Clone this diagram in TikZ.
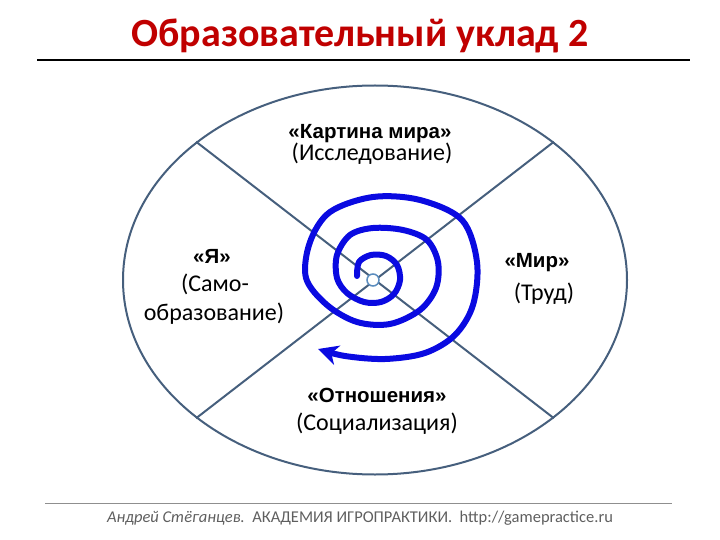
\documentclass[tikz,border=0pt]{standalone}
\usepackage{fontspec}
\setmainfont{Carlito}
\newfontfamily\arialfont{Liberation Sans}
\usetikzlibrary{shapes.geometric,arrows.meta}
\definecolor{titlered}{RGB}{192,0,0}
\definecolor{rimgray}{RGB}{70,95,125}
\definecolor{spiralblue}{RGB}{10,10,225}
\definecolor{hubblue}{RGB}{90,140,190}
\definecolor{footgray}{RGB}{95,95,95}
\begin{document}
\begin{tikzpicture}[x=1pt, y=-1pt,
    rim/.style={draw=rimgray, line width=2pt},
    headline/.style={anchor=base, font=\arialfont\bfseries\fontsize{20.5}{22}\selectfont},
    subline/.style={anchor=base, font=\fontsize{24}{26}\selectfont}]
    \useasboundingbox (0,0) rectangle (720,540);
    \node[anchor=base, text=titlered, font=\bfseries\fontsize{40}{42}\selectfont] (title) at (360,47) {Образовательный уклад 2};
    \coordinate (rule-l) at (37,60);
    \coordinate (rule-r) at (690,60);
    \draw[line width=1.2pt] (rule-l) -- (rule-r);
    \node[ellipse, rim, minimum width=504pt, minimum height=389pt, inner sep=0pt] (oval) at (375,280) {};
    \draw[rim] (oval.north west) -- (oval.south east);
    \draw[rim] (oval.north east) -- (oval.south west);
    \draw[spiralblue, line width=6pt, line cap=round, -{Stealth[length=20pt, width=20pt, inset=6pt]}]
        plot[smooth, tension=0.55] coordinates {
            (357,276) (359,262) (371,255) (386,256) (397,265) (400,280) (394,294)
            (381,302) (364,302) (347,293) (337,278) (337,255) (350,235) (373,228)
            (403,230) (427,240) (438,262) (436,288) (420,310) (390,324) (357,322)
            (327,305) (306,278) (310,242) (330,212) (373,197) (420,200) (462,220)
            (477,262) (473,305) (455,335) (425,353) (385,359) (345,356) (318,349)};
    \node[circle, draw=hubblue, fill=white, line width=1.5pt, minimum size=12pt, inner sep=0pt] (hub) at (373,280) {};
    \foreach \name/\px/\py/\txt in {map/370/139/{«Картина мира»}, self/212/263/{«Я»},
            world/537/267/{«Мир»}, bonds/377/402/{«Отношения»}}
        \node[headline] (\name) at (\px,\py) {\txt};
    \foreach \name/\px/\py/\txt in {explore/372/161/{(Исследование)}, selfa/215/291/{(Само-},
            selfb/214/320/{образование)}, labour/544/300/{(Труд)}, social/377/430/{(Социализация)}}
        \node[subline] (\name) at (\px,\py) {\txt};
    \coordinate (foot-l) at (45,503);
    \coordinate (foot-r) at (672,503);
    \draw[footgray!70, line width=1pt] (foot-l) -- (foot-r);
    \node[anchor=base, text=footgray, font=\fontsize{16.5}{18}\selectfont] (footer) at (360,522)
        {\textit{Андрей Стёганцев.}\ \ АКАДЕМИЯ ИГРОПРАКТИКИ.\ \ http://gamepractice.ru};
\end{tikzpicture}
\end{document}
